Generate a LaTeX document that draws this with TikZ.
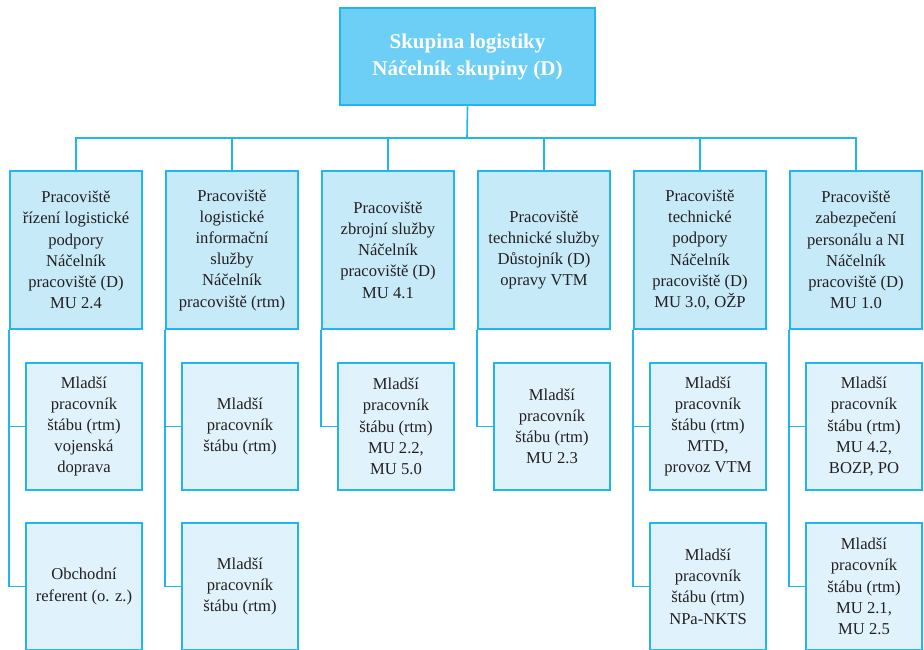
\documentclass[tikz,border=0pt]{standalone}
\usepackage{fontspec}
\setmainfont{Liberation Serif}
\definecolor{lineblue}{HTML}{22B6EE}
\definecolor{topfill}{HTML}{6DCFF6}
\definecolor{midfill}{HTML}{C7EAF9}
\definecolor{lowfill}{HTML}{E0F3FC}
\definecolor{txt}{HTML}{231F20}
\tikzset{
  topbox/.style={draw=lineblue, line width=2.5pt, fill=topfill, rectangle, inner sep=0pt,
    minimum width=255pt, minimum height=97pt, align=center, text=white,
    font=\fontsize{21}{27}\selectfont\bfseries},
  midbox/.style={draw=lineblue, line width=1.5pt, fill=midfill, rectangle, inner sep=0pt,
    minimum width=132pt, minimum height=158pt, align=center, text=txt,
    font=\fontsize{16.6}{21.2}\selectfont},
  lowbox/.style={draw=lineblue, line width=1.5pt, fill=lowfill, rectangle, inner sep=0pt,
    minimum width=116pt, minimum height=127pt, align=center, text=txt,
    font=\fontsize{16.6}{21.2}\selectfont},
  conn/.style={draw=lineblue, line width=1.6pt}
}
\begin{document}
\begin{tikzpicture}[x=1pt,y=-1pt]
\useasboundingbox (0,0) rectangle (924,649);
\node[topbox] (top) at (467.5,56.5) {Skupina logistiky\\Náčelník skupiny (D)};
\coordinate (bus) at (467,138);

\node[midbox] (p1) at (76,250) {Pracoviště\\řízení logistické\\podpory\\Náčelník\\pracoviště (D)\\MU 2.4};
\node[midbox] (p2) at (232,250) {Pracoviště\\logistické\\informační\\služby\\Náčelník\\pracoviště (rtm)};
\node[midbox] (p3) at (388,250) {Pracoviště\\zbrojní služby\\Náčelník\\pracoviště (D)\\MU 4.1};
\node[midbox] (p4) at (544,250) {Pracoviště\\technické služby\\Důstojník (D)\\opravy VTM};
\node[midbox] (p5) at (700,250) {Pracoviště\\technické\\podpory\\Náčelník\\pracoviště (D)\\MU 3.0, OŽP};
\node[midbox] (p6) at (856,250) {Pracoviště\\zabezpečení\\personálu a NI\\Náčelník\\pracoviště (D)\\MU 1.0};

\node[lowbox] (c11) at (84,426.5) {Mladší\\pracovník\\štábu (rtm)\\vojenská\\doprava};
\node[lowbox] (c12) at (84,586.5) {Obchodní\\referent (o. z.)};
\node[lowbox] (c21) at (240,426.5) {Mladší\\pracovník\\štábu (rtm)};
\node[lowbox] (c22) at (240,586.5) {Mladší\\pracovník\\štábu (rtm)};
\node[lowbox] (c31) at (396,426.5) {Mladší\\pracovník\\štábu (rtm)\\MU 2.2,\\MU 5.0};
\node[lowbox] (c41) at (552,426.5) {Mladší\\pracovník\\štábu (rtm)\\MU 2.3};
\node[lowbox] (c51) at (708,426.5) {Mladší\\pracovník\\štábu (rtm)\\MTD,\\provoz VTM};
\node[lowbox] (c52) at (708,586.5) {Mladší\\pracovník\\štábu (rtm)\\NPa-NKTS};
\node[lowbox] (c61) at (864,426.5) {Mladší\\pracovník\\štábu (rtm)\\MU 4.2,\\BOZP, PO};
\node[lowbox] (c62) at (864,586.5) {Mladší\\pracovník\\štábu (rtm)\\MU 2.1,\\MU 2.5};

\draw[conn] (top.south) -- (bus);
\foreach \p in {p1,p2,p3,p4,p5,p6} \draw[conn] (bus) -| (\p.north);
\draw[conn] (p1.south west) |- (c11.west);
\draw[conn] (p1.south west) |- (c12.west);
\draw[conn] (p2.south west) |- (c21.west);
\draw[conn] (p2.south west) |- (c22.west);
\draw[conn] (p3.south west) |- (c31.west);
\draw[conn] (p4.south west) |- (c41.west);
\draw[conn] (p5.south west) |- (c51.west);
\draw[conn] (p5.south west) |- (c52.west);
\draw[conn] (p6.south west) |- (c61.west);
\draw[conn] (p6.south west) |- (c62.west);
\end{tikzpicture}
\end{document}
